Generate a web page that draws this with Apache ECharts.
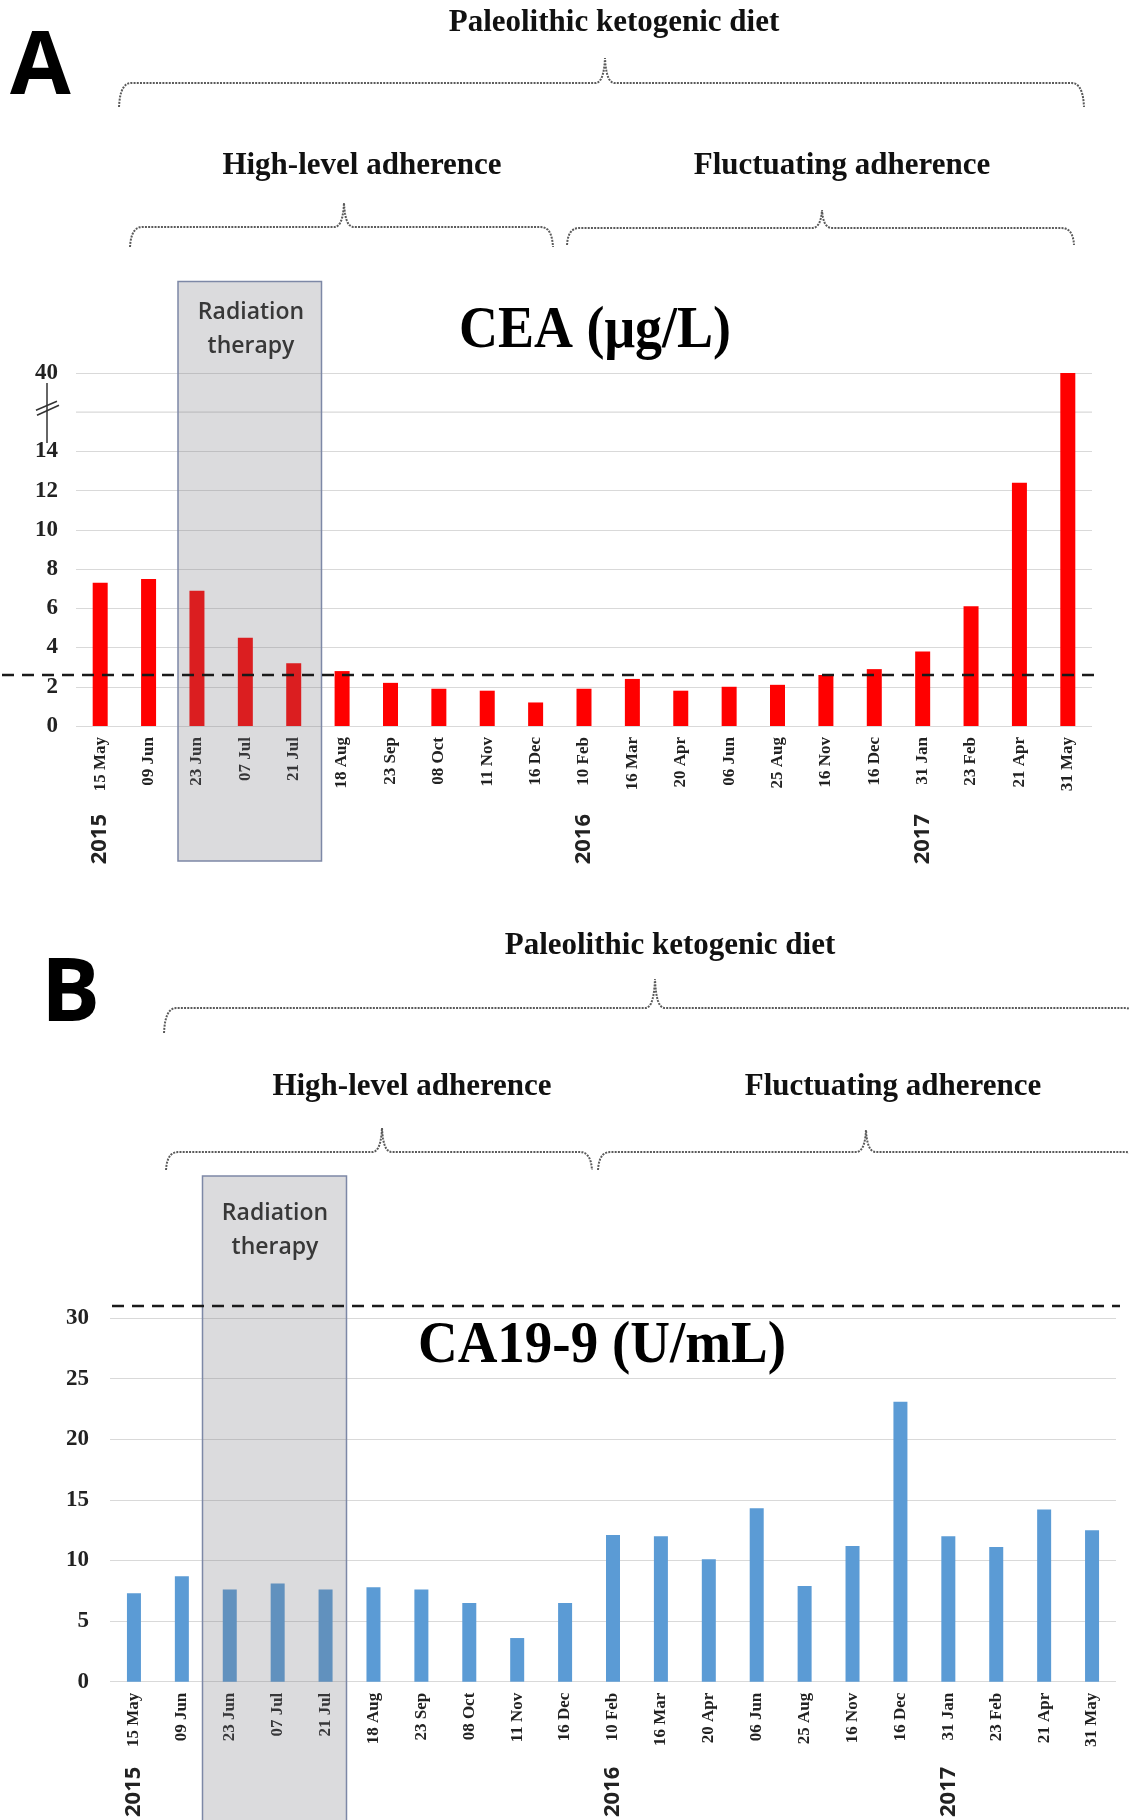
<!DOCTYPE html>
<html>
<head>
<meta charset="utf-8">
<title>CEA and CA19-9</title>
<script src="https://cdn.jsdelivr.net/npm/echarts@6.0.0/dist/echarts.min.js"></script>
<style>
  html, body { margin: 0; padding: 0; background: #fff; }
  #chart { width: 1129px; height: 1820px; }
</style>
</head>
<body>
<div id="chart"></div>
<script>
// sampling dates (same in both panels)
const dates = ['15 May', '09 Jun', '23 Jun', '07 Jul', '21 Jul', '18 Aug', '23 Sep', '08 Oct', '11 Nov', '16 Dec',
  '10 Feb', '16 Mar', '20 Apr', '06 Jun', '25 Aug', '16 Nov', '16 Dec', '31 Jan', '23 Feb', '21 Apr', '31 May']
const years = ['2015', '2016', '2017']
const yearStartIndex = [0, 10, 17]

const ceaValues = [7.3, 7.5, 6.9, 4.5, 3.2, 2.8, 2.2, 1.9, 1.8, 1.2, 1.9, 2.4, 1.8, 2.0, 2.1, 2.6, 2.9, 3.8, 6.1, 12.4, 40]
const ca199Values = [7.3, 8.7, 7.6, 8.1, 7.6, 7.8, 7.6, 6.5, 3.6, 6.5, 12.1, 12.0, 10.1, 14.3, 7.9, 11.2, 23.1, 12.0, 11.1, 14.2, 12.5]

const ceaTicks = [0, 2, 4, 6, 8, 10, 12, 14, 40]
const ceaBreak = [16, 38]
const ca199Ticks = [0, 5, 10, 15, 20, 25, 30]

const ceaCutoff = 2.6
const ca199Cutoff = 31

const serif = '"Liberation Serif", "Times New Roman", serif'
const sans = '"Open Sans", "Noto Sans", sans-serif'

const chart = echarts.init(document.getElementById('chart'), null, { renderer: 'canvas' })

const dateAxis = (gridIndex) => ({
  type: 'category',
  gridIndex,
  data: dates,
  axisLine: { show: false },
  axisTick: { show: false },
  axisLabel: {
    interval: 0,
    rotate: 90,
    margin: 11,
    fontFamily: serif,
    fontWeight: 'bold',
    fontSize: 17,
    color: '#222'
  }
})

const yearAxis = (gridIndex, offset) => ({
  type: 'category',
  gridIndex,
  data: dates,
  position: 'bottom',
  offset,
  axisLine: { show: false },
  axisTick: { show: false },
  splitLine: { show: false },
  axisLabel: {
    interval: 0,
    rotate: 90,
    margin: 0,
    fontFamily: sans,
    fontWeight: 'bold',
    fontSize: 22,
    color: '#222',
    formatter: (v, i) => {
      const k = yearStartIndex.indexOf(i)
      return k >= 0 ? years[k] : ''
    }
  }
})

const gridColor = '#d9d9d9'
const gridLine = { show: true, lineStyle: { color: gridColor, width: 1.2 } }
const valueLabel = (margin) => ({
  margin,
  fontFamily: serif,
  fontWeight: 'bold',
  fontSize: 23,
  color: '#222'
})

chart.setOption({
  animation: false,
  grid: [
    { left: 76, top: 373, width: 1016, height: 353 },
    { left: 110, top: 1318, width: 1006, height: 365 }
  ],
  xAxis: [dateAxis(0), yearAxis(0, 88), dateAxis(1), yearAxis(1, 85)],
  yAxis: [
    {
      type: 'value',
      gridIndex: 0,
      min: 0,
      max: 40,
      interval: 2,
      breaks: [{ start: ceaBreak[0], end: ceaBreak[1], gap: 0 }],
      breakArea: { show: false },
      axisLine: { show: false },
      axisTick: { show: false },
      splitLine: gridLine,
      axisLabel: Object.assign(valueLabel(18), {
        customValues: ceaTicks,
        formatter: (v) => (ceaTicks.indexOf(v) >= 0 ? String(v) : '')
      })
    },
    {
      type: 'value',
      gridIndex: 1,
      min: 0,
      max: 30,
      interval: 5,
      axisLine: { show: false },
      axisTick: { show: false },
      splitLine: gridLine,
      axisLabel: Object.assign(valueLabel(21), { customValues: ca199Ticks })
    }
  ],
  series: [
    {
      name: 'CEA',
      type: 'bar',
      xAxisIndex: 0,
      yAxisIndex: 0,
      barWidth: 15,
      itemStyle: { color: '#ff0000' },
      data: ceaValues
    },
    {
      name: 'CA19-9',
      type: 'bar',
      xAxisIndex: 2,
      yAxisIndex: 1,
      barWidth: 14,
      itemStyle: { color: '#5b9bd5' },
      data: ca199Values
    }
  ]
})

// curly braces drawn as sampled polylines
const quad = (p0, c, p1, n = 8) => {
  const pts = []
  for (let i = 1; i <= n; i++) {
    const t = i / n
    pts.push([
      (1 - t) * (1 - t) * p0[0] + 2 * (1 - t) * t * c[0] + t * t * p1[0],
      (1 - t) * (1 - t) * p0[1] + 2 * (1 - t) * t * c[1] + t * t * p1[1]
    ])
  }
  return pts
}
const brace = (xL, xR, yLine, yEnd, xTip, yTip) => {
  const r = 12
  let pts = [[xL, yEnd]]
  pts = pts.concat(quad([xL, yEnd], [xL + 1, yLine], [xL + r, yLine]))
  pts.push([xTip - 9, yLine])
  pts = pts.concat(quad([xTip - 9, yLine], [xTip - 1, yLine - 1], [xTip, yTip]))
  pts = pts.concat(quad([xTip, yTip], [xTip + 1, yLine - 1], [xTip + 9, yLine]))
  pts.push([xR - r, yLine])
  pts = pts.concat(quad([xR - r, yLine], [xR - 1, yLine], [xR, yEnd]))
  return {
    type: 'polyline',
    z: 5,
    shape: { points: pts },
    style: { fill: null, stroke: '#5a5a5a', lineWidth: 2, lineDash: [2, 1.2] }
  }
}

const text = (str, x, y, fontSize, opts = {}) => ({
  type: 'text',
  x,
  y,
  z: 20,
  scaleY: opts.scaleY || 1,
  style: {
    text: str,
    fontFamily: opts.family || serif,
    fontWeight: opts.weight || 'bold',
    fontSize,
    fill: opts.color || '#111',
    align: opts.align || 'center',
    verticalAlign: 'middle'
  }
})

const radiationBox = (x1, y1, x2, y2) => ({
  type: 'rect',
  z: 10,
  shape: { x: x1, y: y1, width: x2 - x1, height: y2 - y1 },
  style: { fill: 'rgba(115,115,125,0.26)', stroke: '#7d88a6', lineWidth: 1.5 }
})

const dashed = (x1, x2, y) => ({
  type: 'line',
  z: 15,
  shape: { x1, y1: y, x2, y2: y },
  style: { stroke: '#1a1a1a', lineWidth: 2.5, lineDash: [12, 8] }
})

const yCutA = chart.convertToPixel({ yAxisIndex: 0 }, ceaCutoff)
const yCutB = chart.convertToPixel({ yAxisIndex: 1 }, ca199Cutoff)
const yBreak = chart.convertToPixel({ yAxisIndex: 0 }, ceaBreak[0])

const breakMark = [
  // gridline through the axis break
  { type: 'line', z: 1, shape: { x1: 76, y1: yBreak, x2: 1092, y2: yBreak }, style: { stroke: gridColor, lineWidth: 1.2 } },
  { type: 'line', z: 20, shape: { x1: 47, y1: 383, x2: 47, y2: 443 }, style: { stroke: '#333', lineWidth: 1.5 } },
  { type: 'line', z: 20, shape: { x1: 36, y1: yBreak - 2, x2: 57, y2: yBreak - 11 }, style: { stroke: '#333', lineWidth: 1.5 } },
  { type: 'line', z: 20, shape: { x1: 37, y1: yBreak + 3, x2: 59, y2: yBreak - 7 }, style: { stroke: '#333', lineWidth: 1.5 } }
]

chart.setOption({
  graphic: [
    // panel A
    text('A', 10, 69, 88, { family: sans, align: 'left', color: '#000' }),
    text('Paleolithic ketogenic diet', 614, 23, 31),
    brace(119, 1084, 83, 107, 605, 58),
    text('High-level adherence', 362, 166, 31),
    text('Fluctuating adherence', 842, 166, 31),
    brace(130, 553, 227, 247, 344, 203),
    brace(567, 1074, 228, 245, 822, 210),
    radiationBox(178, 281.5, 321.5, 861),
    text('Radiation', 251, 312.5, 23, { family: sans, weight: 600, color: '#383838' }),
    text('therapy', 251, 346, 23, { family: sans, weight: 600, color: '#383838' }),
    text('CEA (\u03bcg/L)', 595, 332, 54, { scaleY: 1.08, color: '#000' }),
    dashed(2, 1098, yCutA),
    ...breakMark,

    // panel B
    text('B', 41, 996, 88, { family: sans, align: 'left', color: '#000' }),
    text('Paleolithic ketogenic diet', 670, 946, 31),
    brace(164, 1138, 1008, 1033, 655, 979),
    text('High-level adherence', 412, 1087, 31),
    text('Fluctuating adherence', 893, 1087, 31),
    brace(166, 592, 1152, 1170, 382, 1128),
    brace(598, 1138, 1152, 1170, 866, 1130),
    radiationBox(202.5, 1176, 346.5, 1830),
    text('Radiation', 275, 1213, 23, { family: sans, weight: 600, color: '#383838' }),
    text('therapy', 275, 1247, 23, { family: sans, weight: 600, color: '#383838' }),
    text('CA19-9 (U/mL)', 602, 1347, 55, { scaleY: 1.08, color: '#000' }),
    dashed(112, 1120, yCutB)
  ]
})
</script>
</body>
</html>
